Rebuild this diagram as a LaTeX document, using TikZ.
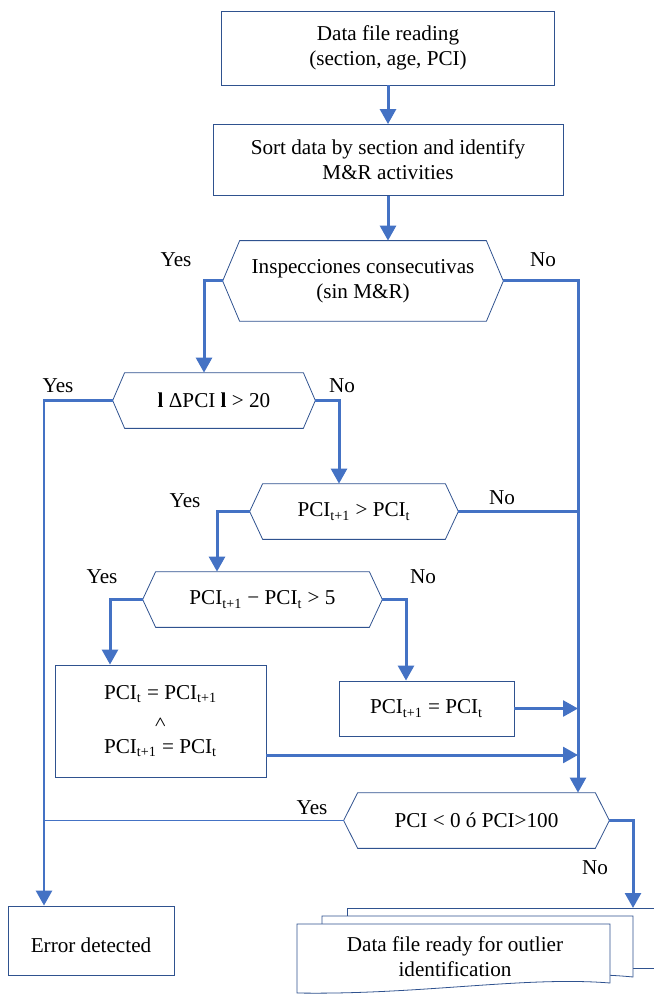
\documentclass[tikz,border=0pt]{standalone}
\usepackage{amsmath}
\usepackage{bm}
\usepackage{fontspec}
\setmainfont{Liberation Serif}
\usetikzlibrary{arrows.meta}
\definecolor{flowblue}{HTML}{4472C4}
\definecolor{edgeblue}{HTML}{2F528F}
\newcommand\pxl{0.567pt}

\begin{document}
\begin{tikzpicture}[x=\pxl,y=-\pxl,
  txt/.style={font=\fontsize{12}{14.2}\selectfont,align=center},
  box/.style={txt,draw=edgeblue,line width=0.45pt,inner sep=0pt},
  hexnode/.style={txt,inner sep=0pt,minimum height=55*\pxl},
  outline/.style={draw=edgeblue,line width=0.45pt},
  flow/.style={draw=flowblue,line width=1.7pt,-{Triangle[length=8.5pt,width=9pt]}},
  flowline/.style={draw=flowblue,line width=1.7pt},
  lbl/.style={font=\fontsize{12}{14.2}\selectfont,inner sep=0pt}]
  \useasboundingbox (0,0) rectangle (654,996);

  \node[box,minimum width=333*\pxl,minimum height=74*\pxl] (read) at (388,48) {Data file reading\\(section, age, PCI)};
  \node[box,minimum width=350*\pxl,minimum height=71*\pxl] (sort) at (388,160) {Sort data by section and identify\\M\&R activities};
  \node[hexnode,minimum width=280*\pxl,minimum height=80*\pxl] (insp) at (363,281) {Inspecciones consecutivas\\(sin M\&R)};
  \node[hexnode,minimum width=202*\pxl] (delta) at (214,400.5) {\textbf{l} ΔPCI \textbf{l} > 20};
  \node[hexnode,minimum width=208*\pxl] (grow) at (354,511.5) {PCI\textsubscript{t+1} > PCI\textsubscript{t}};
  \node[hexnode,minimum width=239*\pxl] (jump) at (262.5,599.5) {PCI\textsubscript{t+1} − PCI\textsubscript{t} > 5};
  \node[box,minimum width=211*\pxl,minimum height=112*\pxl] (swap) at (160.5,721) {PCI\textsubscript{t} = PCI\textsubscript{t+1}\\[1pt]{\footnotesize$\bm{\wedge}$}\\[1pt]PCI\textsubscript{t+1} = PCI\textsubscript{t}};
  \node[box,minimum width=175*\pxl,minimum height=55*\pxl] (keep) at (426.5,708.5) {PCI\textsubscript{t+1} = PCI\textsubscript{t}};
  \node[hexnode,minimum width=265*\pxl] (range) at (476.5,820.5) {PCI < 0 ó PCI>100};
  \node[box,minimum width=166*\pxl,minimum height=69*\pxl,text height=16pt,text depth=2.5pt] (error) at (91,940.5) {Error detected};

  \foreach \n/\d in {insp/17,delta/12,grow/13,jump/13,range/14}
    \draw[outline] (\n.west) -- ([xshift=\d*\pxl]\n.north west) -- ([xshift=-\d*\pxl]\n.north east) -- (\n.east)
      -- ([xshift=-\d*\pxl]\n.south east) -- ([xshift=\d*\pxl]\n.south west) -- cycle;

  \draw[outline,fill=white] (347,908) -- (660,908) -- (660,968) -- (347,968) -- cycle;
  \draw[outline,fill=white] (322,916) -- (633,916) -- (633,977) .. controls (545,968) and (430,988) .. (322,985) -- cycle;
  \draw[outline,fill=white] (297,924) -- (610,924) -- (610,983) .. controls (525,976) and (420,995) .. (297,993) -- cycle;
  \node[txt] (ready) at (455,957) {Data file ready for outlier\\identification};
  \coordinate (docs) at (633,908);
  \coordinate (bus) at (578,0);
  \coordinate (lbus) at (44,0);

  \node[lbl] (yes1) at (176,260) {Yes};
  \node[lbl] (no1) at (543,260) {No};
  \node[lbl] (yes2) at (58,386) {Yes};
  \node[lbl] (no2) at (342,386) {No};
  \node[lbl] (yes3) at (185,501) {Yes};
  \node[lbl] (no3) at (502,498) {No};
  \node[lbl] (yes4) at (102,577) {Yes};
  \node[lbl] (no4) at (423,577) {No};
  \node[lbl] (yes5) at (312,808) {Yes};
  \node[lbl] (no5) at (595,868) {No};

  \draw[flow] (read.south) -- (sort.north);
  \draw[flow] (sort.south) -- (sort.south |- insp.north);
  \draw[flow] (insp.west) -| ([xshift=-10*\pxl]delta.north);
  \draw[flow] (insp.east) -| (bus |- range.north);
  \draw[flow] (delta.west) -| (lbus |- error.north);
  \draw[flow] (delta.east) -| ([xshift=-15*\pxl]grow.north);
  \draw[flowline] (grow.east) -- (grow.east -| bus);
  \draw[flow] (grow.west) -| ([xshift=-45.5*\pxl]jump.north);
  \draw[flow] (jump.west) -| ([xshift=-50.5*\pxl]swap.north);
  \draw[flow] (jump.east) -| ([xshift=-20.5*\pxl]keep.north);
  \draw[flow] (keep.east) -- (keep.east -| bus);
  \draw[flow] ([yshift=-34*\pxl]swap.east) -- ([yshift=-34*\pxl]swap.east -| bus);
  \draw[draw=flowblue,line width=0.6pt] (range.west) -- (range.west -| lbus);
  \draw[flow] (range.east) -| (docs);
\end{tikzpicture}
\end{document}
